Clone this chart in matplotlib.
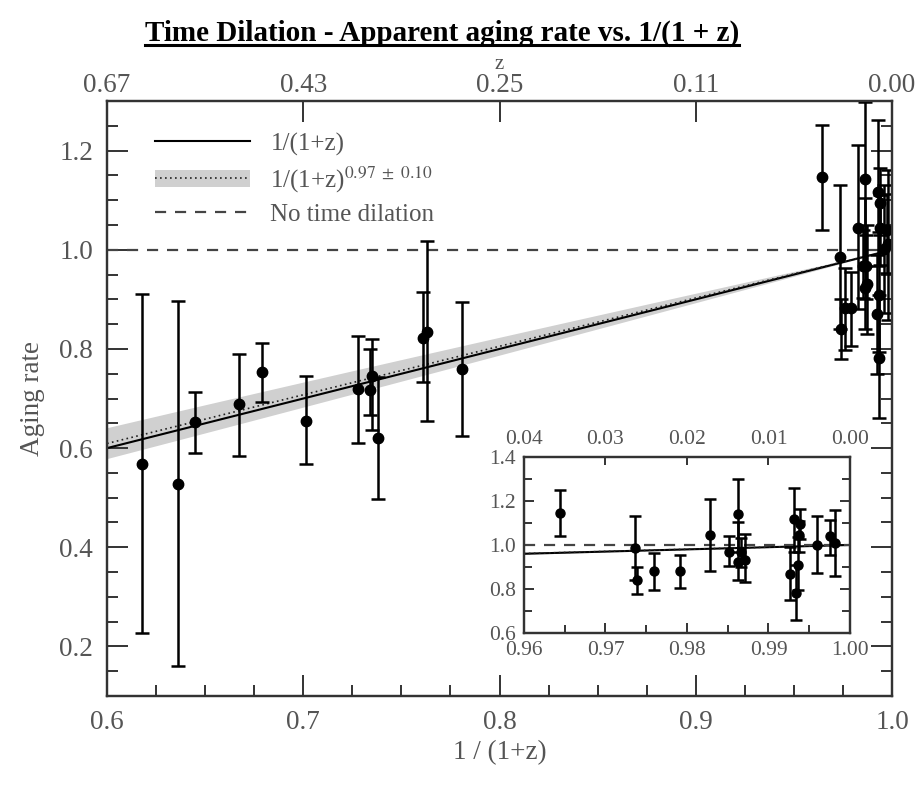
import numpy as np
import matplotlib
matplotlib.use("Agg")
import matplotlib.pyplot as plt
from matplotlib.ticker import MultipleLocator, FuncFormatter, FormatStrFormatter, NullLocator
from matplotlib.patches import Patch
from matplotlib.lines import Line2D
from matplotlib.legend_handler import HandlerTuple

plt.rcParams['font.family'] = 'serif'
plt.rcParams['font.serif'] = ['Liberation Serif', 'DejaVu Serif']
plt.rcParams['mathtext.fontset'] = 'stix'

# ---- data ----
x_vals = [0.618, 0.636, 0.645, 0.667, 0.679, 0.7015, 0.728, 0.735, 0.734, 0.738,
          0.761, 0.763, 0.781,
          0.9644, 0.9736, 0.9739, 0.9759, 0.9792, 0.9828, 0.9852, 0.9862, 0.9862,
          0.9866, 0.9871, 0.9926, 0.9931, 0.9934, 0.9936, 0.9937, 0.9939, 0.9960,
          0.9976, 0.9982]
y_vals = [0.567, 0.528, 0.652, 0.688, 0.753, 0.655, 0.720, 0.745, 0.718, 0.620,
          0.822, 0.835, 0.759,
          1.146, 0.985, 0.840, 0.882, 0.882, 1.044, 0.968, 1.143, 0.923,
          0.968, 0.930, 0.870, 1.117, 0.782, 0.908, 1.044, 1.094, 1.002,
          1.040, 1.011]
y_low = [0.227, 0.160, 0.591, 0.585, 0.692, 0.567, 0.610, 0.637, 0.667, 0.498,
         0.733, 0.655, 0.624,
         1.040, 0.840, 0.779, 0.797, 0.806, 0.880, 0.903, 0.968, 0.840,
         0.900, 0.830, 0.749, 0.968, 0.661, 0.794, 0.970, 1.029, 0.873,
         0.953, 0.858]
y_high = [0.911, 0.897, 0.714, 0.790, 0.812, 0.745, 0.827, 0.821, 0.800, 0.744,
          0.914, 1.018, 0.895,
          1.252, 1.130, 0.900, 0.964, 0.956, 1.211, 1.040, 1.299, 1.105,
          1.030, 1.049, 0.990, 1.261, 0.908, 1.036, 1.110, 1.165, 1.130,
          1.112, 1.161]
fit_exponent = 0.97
fit_exponent_err = 0.10
no_dilation_level = 1.0

title = "Time Dilation - Apparent aging rate vs. 1/(1 + z)"
legend_labels = ["1/(1+z)", r"1/(1+z)$^{0.97\ \pm\ 0.10}$", "No time dilation"]

TXT = '#555555'
SP = '#333333'

x = np.array(x_vals)
y = np.array(y_vals)
yerr = [y - np.array(y_low), np.array(y_high) - y]
xs = np.linspace(0.6, 1.0, 300)


def draw(ax, ms, cap):
    ax.fill_between(xs, xs ** (fit_exponent + fit_exponent_err),
                    xs ** (fit_exponent - fit_exponent_err),
                    color='#d0d0d0', lw=0, zorder=1)
    ax.plot(xs, xs, color='k', lw=1.5, zorder=2)
    ax.plot(xs, xs ** fit_exponent, color='#222222', ls=(0, (1, 2)), lw=1.2, zorder=2)
    ax.axhline(no_dilation_level, color='#444444', ls=(0, (5, 4)), lw=1.6, zorder=2)
    ax.errorbar(x, y, yerr=yerr, fmt='o', color='k', ms=ms, capsize=cap,
                elinewidth=1.8, capthick=1.8, zorder=3)


def style(ax, size):
    for s in ax.spines.values():
        s.set_color(SP)
        s.set_linewidth(1.6)
    ax.tick_params(which='both', direction='in', colors=SP, labelcolor=TXT,
                   labelsize=size, width=1.4)


def zfmt(v, pos):
    return f"{max(0.0, 1.0 / v - 1.0):.2f}"


fig = plt.figure(figsize=(9.18, 7.93), dpi=100)
ax = fig.add_axes([0.1166, 0.1223, 0.8551, 0.7503])
draw(ax, 7.5, 5)
ax.set_xlim(0.6, 1.0)
ax.set_ylim(0.1, 1.3)
ax.xaxis.set_major_locator(MultipleLocator(0.1))
ax.xaxis.set_minor_locator(MultipleLocator(0.025))
ax.yaxis.set_major_locator(MultipleLocator(0.2))
ax.yaxis.set_minor_locator(MultipleLocator(0.05))
ax.xaxis.set_major_formatter(FormatStrFormatter('%.1f'))
ax.yaxis.set_major_formatter(FormatStrFormatter('%.1f'))
style(ax, 19.5)
ax.tick_params(which='both', right=True, top=False)
ax.tick_params(which='major', length=15, pad=10)
ax.tick_params(which='minor', length=8)
ax.set_xlabel("1 / (1+z)", fontsize=19.5, color=TXT, labelpad=4)
ax.set_ylabel("Aging rate", fontsize=19.5, color=TXT, labelpad=10)

top = ax.twiny()
top.set_xlim(0.6, 1.0)
top.xaxis.set_major_locator(MultipleLocator(0.1))
top.xaxis.set_minor_locator(NullLocator())
top.xaxis.set_major_formatter(FuncFormatter(zfmt))
style(top, 19.5)
top.tick_params(which='major', length=15, pad=2)
top.set_xlabel("z", fontsize=15, color=TXT, labelpad=3)

h_solid = Line2D([], [], color='k', lw=1.5)
h_band = Patch(facecolor='#d0d0d0', edgecolor='none')
h_dot = Line2D([], [], color='#222222', ls=(0, (1, 2)), lw=1.2)
h_dash = Line2D([], [], color='#444444', ls=(0, (5, 4)), lw=1.6)
leg = ax.legend([h_solid, (h_band, h_dot), h_dash], legend_labels,
                handler_map={tuple: HandlerTuple(ndivide=1, pad=0)},
                loc='upper left', bbox_to_anchor=(0.033, 0.985), frameon=False,
                fontsize=18, handlelength=3.8, handletextpad=0.8, labelspacing=0.35)
for t in leg.get_texts():
    t.set_color(TXT)

# inset
ins = fig.add_axes([0.5708, 0.2018, 0.3551, 0.2219])
ins.set_facecolor('white')
draw(ins, 6.5, 4)
ins.set_xlim(0.96, 1.0)
ins.set_ylim(0.6, 1.4)
ins.xaxis.set_major_locator(MultipleLocator(0.01))
ins.xaxis.set_minor_locator(MultipleLocator(0.005))
ins.yaxis.set_major_locator(MultipleLocator(0.2))
ins.yaxis.set_minor_locator(MultipleLocator(0.1))
ins.xaxis.set_major_formatter(FormatStrFormatter('%.2f'))
ins.yaxis.set_major_formatter(FormatStrFormatter('%.1f'))
style(ins, 15.5)
ins.tick_params(which='both', right=True, top=False)
ins.tick_params(which='major', length=7, pad=6)
ins.tick_params(which='minor', length=6)
itop = ins.twiny()
itop.set_xlim(0.96, 1.0)
itop.xaxis.set_major_locator(MultipleLocator(0.01))
itop.xaxis.set_minor_locator(NullLocator())
itop.xaxis.set_major_formatter(FuncFormatter(zfmt))
style(itop, 15.5)
itop.tick_params(which='major', length=6, pad=6)

# title with underline
tt = fig.text(442 / 918, 1 - 33 / 793, title, ha='center', va='center',
              fontsize=21, fontweight='bold', color='black')
fig.canvas.draw()
bb = tt.get_window_extent().transformed(fig.transFigure.inverted())
fig.add_artist(Line2D([bb.x0, bb.x1], [bb.y0 + 0.002, bb.y0 + 0.002],
                      transform=fig.transFigure, color='black', lw=2.2))

fig.savefig("out.png", dpi=100)
